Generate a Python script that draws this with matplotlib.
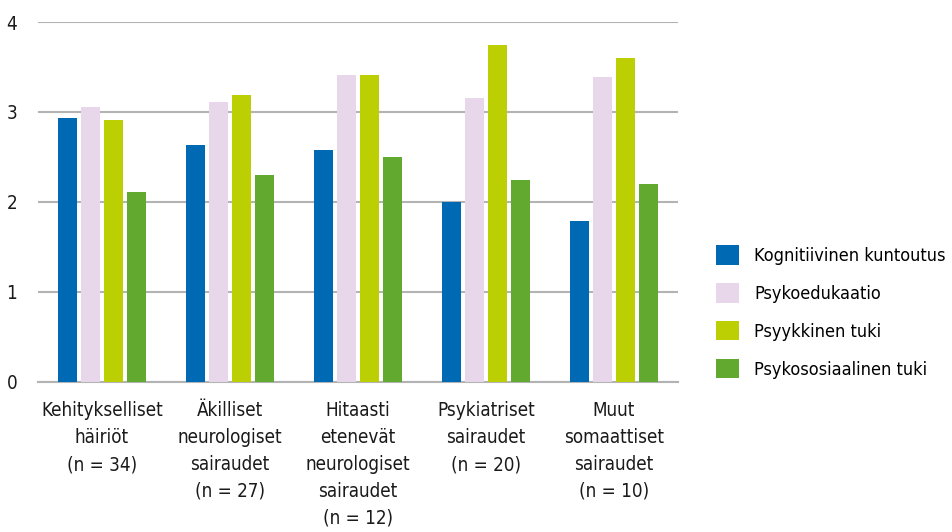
"""
Grouped bar chart: average rating of rehabilitation forms by diagnosis group.
"""
import numpy as np
import matplotlib
matplotlib.use("Agg")
import matplotlib.pyplot as plt

plt.rcParams['font.family'] = ['DejaVu Sans']
plt.rcParams['font.stretch'] = 'condensed'

categories = [
    'Kehitykselliset\nhäiriöt\n(n = 34)',
    'Äkilliset\nneurologiset\nsairaudet\n(n = 27)',
    'Hitaasti\netenevät\nneurologiset\nsairaudet\n(n = 12)',
    'Psykiatriset\nsairaudet\n(n = 20)',
    'Muut\nsomaattiset\nsairaudet\n(n = 10)',
]
series_names = [
    'Kognitiivinen kuntoutus',
    'Psykoedukaatio',
    'Psyykkinen tuki',
    'Psykososiaalinen tuki',
]
kognitiivinen = [2.93, 2.63, 2.58, 2.00, 1.79]
psykoedukaatio = [3.06, 3.11, 3.41, 3.15, 3.39]
psyykkinen = [2.91, 3.19, 3.41, 3.74, 3.60]
psykososiaalinen = [2.11, 2.30, 2.50, 2.24, 2.20]
y_ticks = [0, 1, 2, 3, 4]

colors = ['#0069b4', '#e8d7ea', '#bccf02', '#62a930']

fig = plt.figure(figsize=(9.53, 5.32), dpi=100)
ax = fig.add_axes([38 / 953, 1 - 381.7 / 532, 640 / 953, (381.7 - 22) / 532])

x = np.arange(len(categories))
slot = 0.18
width = 0.148
all_series = [kognitiivinen, psykoedukaatio, psyykkinen, psykososiaalinen]
for i, (vals, name, col) in enumerate(zip(all_series, series_names, colors)):
    ax.bar(x + (i - 1.5) * slot, vals, width, color=col, label=name, zorder=3)

ax.set_xlim(-0.5, len(categories) - 0.5)
ax.set_ylim(0, 4)
ax.set_yticks(y_ticks)
ax.yaxis.grid(True, color='#b3b3b3', linewidth=1.5, zorder=0)
ax.set_axisbelow(True)
for side in ['left', 'right', 'top']:
    ax.spines[side].set_visible(False)
ax.spines['bottom'].set_color('#b3b3b3')
ax.spines['bottom'].set_linewidth(1.5)
ax.tick_params(axis='y', length=0, pad=15, labelsize=13.5, colors='#1a1a1a')
ax.tick_params(axis='x', length=0, pad=14, labelsize=13.5, colors='#1a1a1a')
ax.set_xticks(x)
ax.set_xticklabels(categories, linespacing=1.53, va='top')

ax.legend(loc='center left', bbox_to_anchor=(716 / 953, 1 - 312 / 532),
          bbox_transform=fig.transFigure, frameon=False, fontsize=13,
          handlelength=1.27, handleheight=1.27, labelspacing=1.0,
          handletextpad=0.85, borderpad=0, borderaxespad=0)

fig.savefig('out.png', dpi=100)
